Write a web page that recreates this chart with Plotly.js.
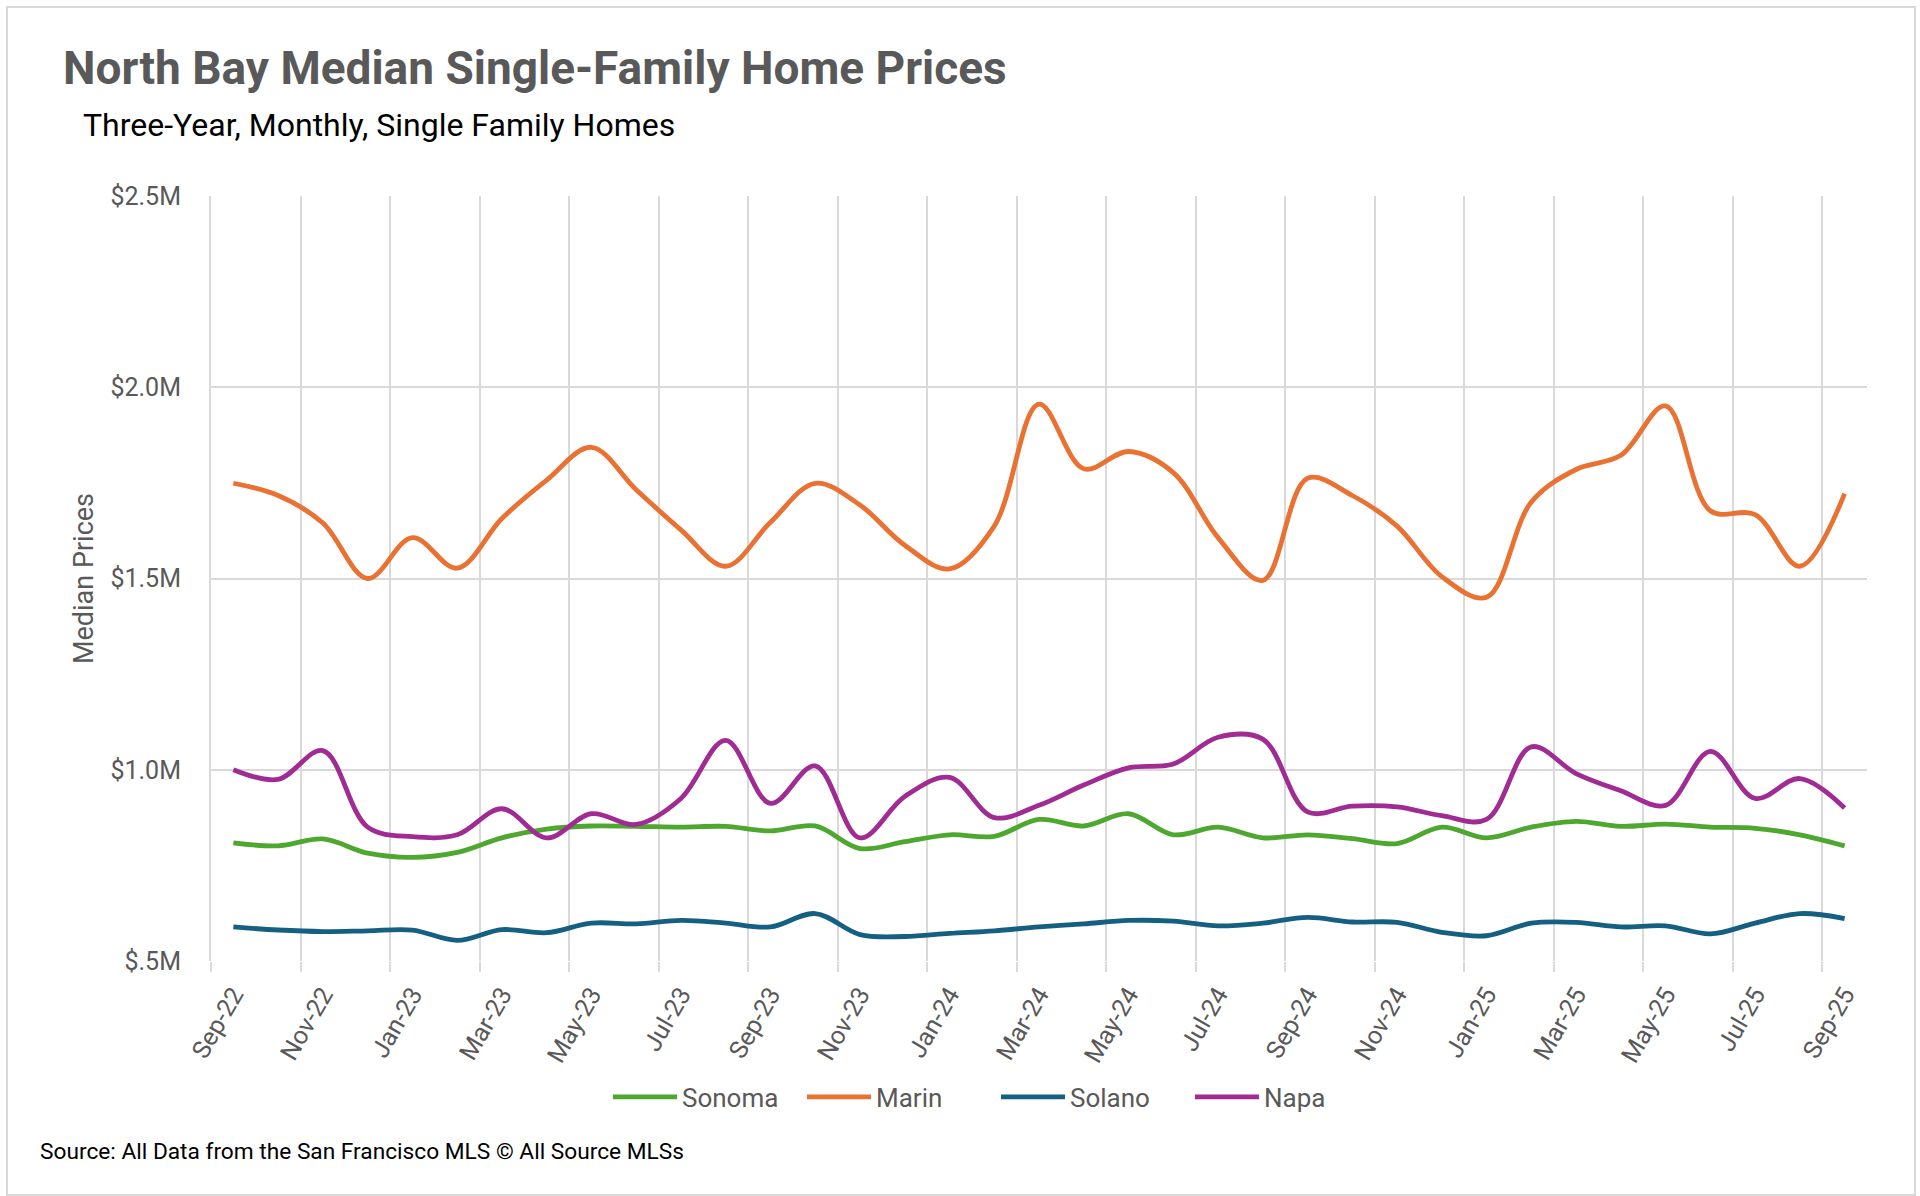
<!DOCTYPE html>
<html>
<head>
<meta charset="utf-8">
<script src="https://cdn.plot.ly/plotly-3.0.1.min.js"></script>
<style>
  html, body { margin: 0; padding: 0; background: #ffffff; }
  #wrap { position: relative; width: 1920px; height: 1196px; }
  #chart { position: absolute; left: 0; top: 0; width: 1920px; height: 1196px; }
  #frame { position: absolute; left: 6px; top: 6px; width: 1906px; height: 1186px;
           border: 2px solid #d9d9d9; pointer-events: none; }
</style>
</head>
<body>
<div id="wrap">
  <div id="chart"></div>
  <div id="frame"></div>
</div>
<script>
// ---- Data (median prices, $ millions) ----
const months = ["Sep-22","Oct-22","Nov-22","Dec-22","Jan-23","Feb-23","Mar-23","Apr-23","May-23","Jun-23",
  "Jul-23","Aug-23","Sep-23","Oct-23","Nov-23","Dec-23","Jan-24","Feb-24","Mar-24","Apr-24",
  "May-24","Jun-24","Jul-24","Aug-24","Sep-24","Oct-24","Nov-24","Dec-24","Jan-25","Feb-25",
  "Mar-25","Apr-25","May-25","Jun-25","Jul-25","Aug-25","Sep-25"];

const sonoma = [0.809,0.801,0.819,0.782,0.771,0.784,0.822,0.845,0.853,0.852,
  0.850,0.852,0.840,0.853,0.794,0.812,0.830,0.826,0.870,0.853,
  0.885,0.830,0.850,0.822,0.830,0.820,0.807,0.850,0.822,0.850,
  0.865,0.852,0.858,0.850,0.847,0.830,0.801];

const marin = [1.749,1.717,1.645,1.500,1.607,1.527,1.657,1.757,1.843,1.732,
  1.627,1.532,1.647,1.749,1.692,1.587,1.525,1.637,1.956,1.787,
  1.832,1.777,1.607,1.495,1.762,1.717,1.637,1.505,1.451,1.700,
  1.785,1.822,1.951,1.677,1.667,1.532,1.722];

const solano = [0.589,0.581,0.577,0.579,0.581,0.554,0.582,0.574,0.599,0.597,
  0.606,0.599,0.589,0.624,0.569,0.564,0.572,0.579,0.589,0.597,
  0.606,0.604,0.592,0.599,0.614,0.602,0.601,0.575,0.566,0.599,
  0.601,0.589,0.592,0.571,0.599,0.624,0.611];

const napa = [1.000,0.975,1.050,0.850,0.825,0.830,0.898,0.822,0.885,0.857,
  0.925,1.077,0.912,1.010,0.822,0.930,0.980,0.875,0.907,0.960,
  1.005,1.015,1.085,1.080,0.890,0.905,0.903,0.880,0.870,1.060,
  0.990,0.945,0.907,1.048,0.925,0.977,0.900];

const seriesNames = ["Sonoma","Marin","Solano","Napa"];
const yTickVals = [0.5, 1.0, 1.5, 2.0, 2.5];
const yTickLabels = ["$.5M","$1.0M","$1.5M","$2.0M","$2.5M"];

const titleText = "North Bay Median Single-Family Home Prices";
const subtitleText = "Three-Year, Monthly, Single Family Homes";
const yTitleText = "Median Prices";
const sourceText = "Source: All Data from the San Francisco MLS \u00A9 All Source MLSs";

// ---- Derived axis helpers ----
const idx = months.map((m, i) => i);
const labelIdx = idx.filter(i => i % 2 === 0);
const labelText = labelIdx.map(i => months[i]);
const boundaries = idx.filter(i => i % 2 === 0).map(i => i - 0.5);

const colors = {Sonoma: "#4EA72E", Marin: "#E97132", Solano: "#156082", Napa: "#A02B93"};
const values = {Sonoma: sonoma, Marin: marin, Solano: solano, Napa: napa};

const FONT = "Roboto, 'Noto Sans', sans-serif";
const GRAY = "#595959";
const GRID = "#d9d9d9";

const traces = seriesNames.map(name => ({
  type: "scatter",
  mode: "lines",
  name: name,
  x: idx,
  y: values[name],
  line: {color: colors[name], width: 4.8, shape: "spline", smoothing: 1.0},
  hoverinfo: "name+y"
}));

const layout = {
  width: 1920,
  height: 1196,
  paper_bgcolor: "#ffffff",
  plot_bgcolor: "#ffffff",
  margin: {l: 211, r: 53, t: 196, b: 235, autoexpand: false},
  font: {family: FONT, color: GRAY, size: 24},
  title: {
    text: "<b>" + titleText + "</b>",
    font: {family: FONT, size: 46, color: GRAY},
    x: 63 / 1920, xref: "container", xanchor: "left",
    y: 1 - 68 / 1196, yref: "container", yanchor: "middle"
  },
  showlegend: true,
  legend: {
    orientation: "h",
    xref: "container", yref: "container",
    x: 608 / 1920, xanchor: "left",
    y: 1 - 1097 / 1196, yanchor: "middle",
    font: {family: FONT, size: 26, color: GRAY},
    itemwidth: 64,
    entrywidth: 115,
    bgcolor: "rgba(0,0,0,0)"
  },
  xaxis: {
    type: "linear",
    range: [-0.5, months.length - 0.5],
    tickmode: "array",
    tickvals: labelIdx,
    ticktext: labelText,
    tickangle: -60,
    tickfont: {family: FONT, size: 25, color: GRAY},
    ticks: "outside",
    ticklen: 8,
    tickcolor: "rgba(0,0,0,0)",
    showgrid: false,
    zeroline: false,
    showline: false,
    minor: {
      tickmode: "array",
      tickvals: boundaries,
      ticks: "outside",
      ticklen: 10,
      tickwidth: 2,
      tickcolor: GRID,
      showgrid: true,
      gridcolor: GRID,
      gridwidth: 2
    },
    fixedrange: true
  },
  yaxis: {
    range: [0.5, 2.5],
    tickmode: "array",
    tickvals: yTickVals,
    ticktext: yTickLabels,
    tickfont: {family: FONT, size: 25, color: GRAY},
    ticks: "outside",
    ticklen: 23,
    tickcolor: "rgba(0,0,0,0)",
    showgrid: true,
    gridcolor: GRID,
    gridwidth: 2,
    zeroline: false,
    showline: true,
    linecolor: GRID,
    linewidth: 2,
    title: {
      text: yTitleText,
      font: {family: FONT, size: 27, color: GRAY},
      standoff: 9
    },
    fixedrange: true
  },
  annotations: [
    {
      text: subtitleText,
      xref: "paper", yref: "paper",
      x: (81 - 211) / 1656, xanchor: "left",
      y: (961 - 125) / 765, yanchor: "middle",
      showarrow: false,
      font: {family: FONT, size: 32, color: "#000000"}
    },
    {
      text: sourceText,
      xref: "paper", yref: "paper",
      x: (38 - 211) / 1656, xanchor: "left",
      y: (961 - 1151) / 765, yanchor: "middle",
      showarrow: false,
      font: {family: FONT, size: 22.7, color: "#000000"}
    }
  ]
};

Plotly.newPlot("chart", traces, layout, {displayModeBar: false, staticPlot: false, responsive: false});
</script>
</body>
</html>
